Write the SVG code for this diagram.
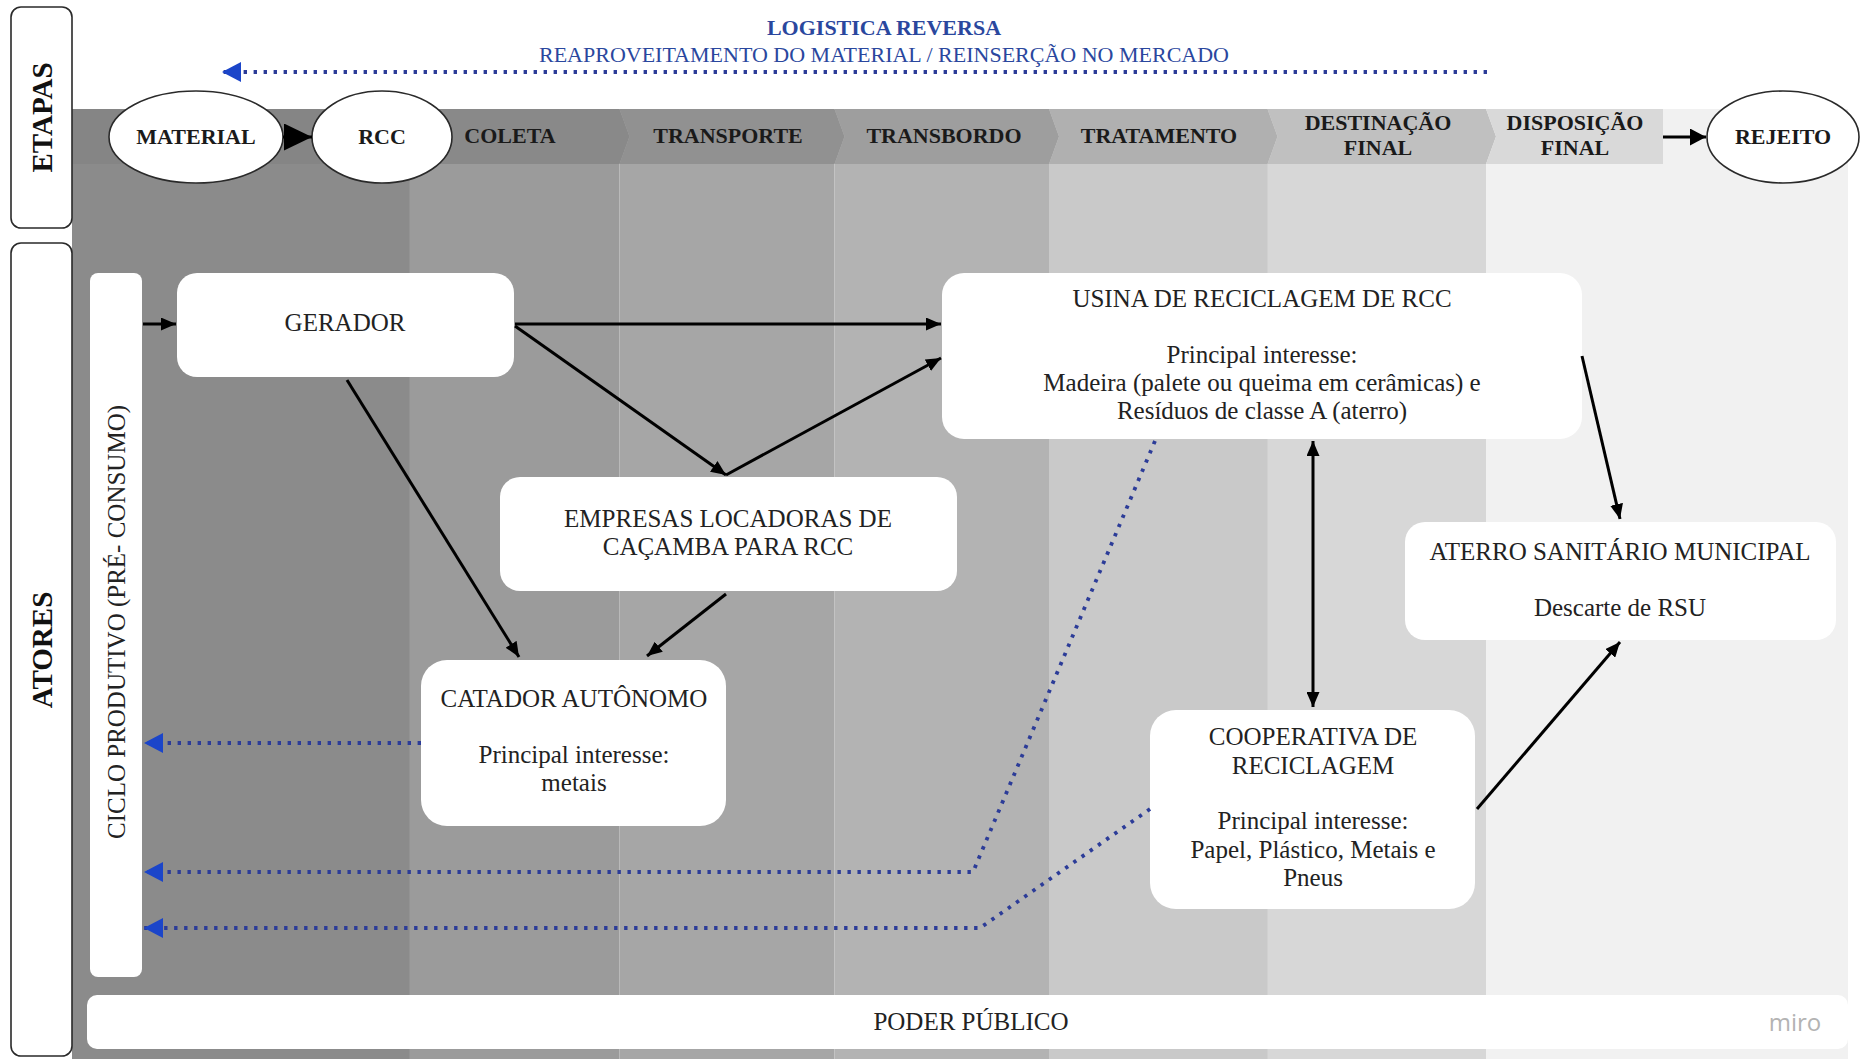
<svg xmlns="http://www.w3.org/2000/svg" width="1861" height="1059" viewBox="0 0 1861 1059">
<style>
.hdr{font-family:"Liberation Serif","Times New Roman",serif;font-weight:bold;font-size:22px;fill:#1a1a1a;text-anchor:middle}
.nt{font-family:"Liberation Serif","Times New Roman",serif;font-size:25px;fill:#222;text-anchor:middle}
.side{font-family:"Liberation Serif","Times New Roman",serif;font-weight:bold;font-size:29px;fill:#111;text-anchor:middle}
.node{fill:#fff}
.frame{fill:#fff;stroke:#2a2a2a;stroke-width:1.6}
.ell{fill:#fff;stroke:#2a2a2a;stroke-width:1.6}
.conn{fill:none;stroke:#000;stroke-width:3}
.dot{fill:none;stroke:#2c3c98;stroke-width:3.8;stroke-dasharray:3.4 6.6}
.blue{font-family:"Liberation Serif","Times New Roman",serif;font-size:22px;fill:#2a479e;text-anchor:middle}
</style>
<defs>
<marker id="ah" viewBox="0 0 15 13" refX="15" refY="6.5" markerWidth="15" markerHeight="13" markerUnits="userSpaceOnUse" orient="auto-start-reverse"><path d="M0,0 L15,6.5 L0,13 z" fill="#000"/></marker>
<marker id="ahb" viewBox="0 0 28 27" refX="28" refY="13.5" markerWidth="28" markerHeight="27" markerUnits="userSpaceOnUse" orient="auto"><path d="M0,0 L28,13.5 L0,27 z" fill="#000"/></marker>
<marker id="ah4" viewBox="0 0 16 17" refX="16" refY="8.5" markerWidth="16" markerHeight="17" markerUnits="userSpaceOnUse" orient="auto"><path d="M0,0 L16,8.5 L0,17 z" fill="#000"/></marker>
<marker id="bh" viewBox="0 0 19 20" refX="19" refY="10" markerWidth="19" markerHeight="20" markerUnits="userSpaceOnUse" orient="auto"><path d="M0,0 L19,10 L0,20 z" fill="#1b45c9"/></marker>
</defs>

<g id="background">
<rect x="72" y="109" width="338" height="950" fill="#8b8b8b"/>
<rect x="409.5" y="109" width="210" height="950" fill="#9b9b9b"/>
<rect x="619.5" y="109" width="215" height="950" fill="#a6a6a6"/>
<rect x="834.5" y="109" width="215" height="950" fill="#b3b3b3"/>
<rect x="1049" y="109" width="219" height="950" fill="#c9c9c9"/>
<rect x="1267.5" y="109" width="219" height="950" fill="#d7d7d7"/>
<rect x="1486" y="109" width="362" height="950" fill="#f1f1f1"/>
</g>

<g id="header-chevrons">
<rect x="72" y="109" width="338" height="55" fill="#858585"/>
<polygon points="409.5,109 619.5,109 629.5,136.5 619.5,164 409.5,164" fill="#898989"/>
<polygon points="619.5,109 834.5,109 844.5,136.5 834.5,164 619.5,164 629.5,136.5" fill="#919191"/>
<polygon points="834.5,109 1049,109 1059,136.5 1049,164 834.5,164 844.5,136.5" fill="#9e9e9e"/>
<polygon points="1049,109 1267.5,109 1277.5,136.5 1267.5,164 1049,164 1059,136.5" fill="#b0b0b0"/>
<polygon points="1267.5,109 1486,109 1496,136.5 1486,164 1267.5,164 1277.5,136.5" fill="#c0c0c0"/>
<polygon points="1486,109 1663,109 1663,164 1486,164 1496,136.5" fill="#d9d9d9"/>
</g>

<g id="title">
<text x="884" y="35" class="blue" font-weight="bold" fill="#20409a">LOGISTICA REVERSA</text>
<text x="884" y="62" class="blue">REAPROVEITAMENTO DO MATERIAL / REINSERÇÃO NO MERCADO</text>
</g>

<g id="etapas"><rect class="frame" x="11" y="7" width="61" height="221" rx="10"/><text class="side" transform="translate(41.5,117.5) rotate(-90)" y="10">ETAPAS</text></g>
<g id="atores"><rect class="frame" x="11" y="243" width="61" height="813" rx="10"/><text class="side" transform="translate(41.5,650) rotate(-90)" y="10">ATORES</text></g>

<g id="stage-labels">
<text class="hdr" x="510" y="143">COLETA</text>
<text class="hdr" x="728" y="143">TRANSPORTE</text>
<text class="hdr" x="944" y="143">TRANSBORDO</text>
<text class="hdr" x="1159" y="143">TRATAMENTO</text>
<text class="hdr" x="1378" y="130">DESTINAÇÃO</text>
<text class="hdr" x="1378" y="155">FINAL</text>
<text class="hdr" x="1575" y="130">DISPOSIÇÃO</text>
<text class="hdr" x="1575" y="155">FINAL</text>
</g>

<g id="material"><ellipse class="ell" cx="196" cy="137" rx="87" ry="46"/><text class="hdr" x="196" y="144">MATERIAL</text></g>
<g id="rcc"><ellipse class="ell" cx="382" cy="137" rx="70" ry="46"/><text class="hdr" x="382" y="144">RCC</text></g>
<g id="rejeito"><ellipse class="ell" cx="1783" cy="137" rx="76" ry="46"/><text class="hdr" x="1783" y="144">REJEITO</text></g>

<g id="ciclo"><rect class="node" x="90" y="273" width="52" height="704" rx="8"/><text class="nt" transform="translate(116,622) rotate(-90)" y="8.5">CICLO PRODUTIVO (PRÉ- CONSUMO)</text></g>

<g id="gerador"><rect class="node" x="177" y="273" width="337" height="104" rx="20"/><text class="nt" x="345" y="331">GERADOR</text></g>

<g id="usina"><rect class="node" x="942" y="273" width="640" height="166" rx="22"/>
<text class="nt" x="1262" y="307">USINA DE RECICLAGEM DE RCC</text>
<text class="nt" x="1262" y="363">Principal interesse:</text>
<text class="nt" x="1262" y="391">Madeira (palete ou queima em cerâmicas) e</text>
<text class="nt" x="1262" y="419">Resíduos de classe A (aterro)</text></g>

<g id="empresas"><rect class="node" x="500" y="477" width="457" height="114" rx="20"/>
<text class="nt" x="728" y="527">EMPRESAS LOCADORAS DE</text>
<text class="nt" x="728" y="555">CAÇAMBA PARA RCC</text></g>

<g id="catador"><rect class="node" x="421" y="660" width="305" height="166" rx="26"/>
<text class="nt" x="574" y="707">CATADOR AUTÔNOMO</text>
<text class="nt" x="574" y="763">Principal interesse:</text>
<text class="nt" x="574" y="791">metais</text></g>

<g id="aterro"><rect class="node" x="1405" y="522" width="431" height="118" rx="20"/>
<text class="nt" x="1620" y="560">ATERRO SANITÁRIO MUNICIPAL</text>
<text class="nt" x="1620" y="616">Descarte de RSU</text></g>

<g id="cooperativa"><rect class="node" x="1150" y="710" width="325" height="199" rx="26"/>
<text class="nt" x="1313" y="745">COOPERATIVA DE</text>
<text class="nt" x="1313" y="774">RECICLAGEM</text>
<text class="nt" x="1313" y="829">Principal interesse:</text>
<text class="nt" x="1313" y="858">Papel, Plástico, Metais e</text>
<text class="nt" x="1313" y="886">Pneus</text></g>

<g id="poder-publico"><rect class="node" x="87" y="995" width="1761" height="54" rx="10"/>
<text class="nt" x="971" y="1030">PODER PÚBLICO</text>
<text x="1795" y="1031" font-family="'Open Sans','Noto Sans',sans-serif" font-size="24" fill="#b3b3b3" text-anchor="middle">miro</text></g>

<g id="connectors">
<line class="conn" x1="283" y1="137" x2="312" y2="137" stroke-width="2" marker-end="url(#ahb)"/>
<line class="conn" x1="1663" y1="137" x2="1706" y2="137" stroke-width="4" marker-end="url(#ah4)"/>
<line class="conn" x1="143" y1="324" x2="176" y2="324" marker-end="url(#ah)"/>
<line class="conn" x1="515" y1="324" x2="941" y2="324" marker-end="url(#ah)"/>
<line class="conn" x1="515" y1="326" x2="726" y2="475" marker-end="url(#ah)"/>
<line class="conn" x1="726" y1="475" x2="941" y2="358" marker-end="url(#ah)"/>
<line class="conn" x1="347" y1="380" x2="519" y2="657" marker-end="url(#ah)"/>
<line class="conn" x1="726" y1="594" x2="647" y2="656" marker-end="url(#ah)"/>
<line class="conn" x1="1313" y1="441" x2="1313" y2="707" marker-start="url(#ah)" marker-end="url(#ah)"/>
<line class="conn" x1="1582" y1="356" x2="1620" y2="519" marker-end="url(#ah)"/>
<line class="conn" x1="1477" y1="809" x2="1620" y2="642" marker-end="url(#ah)"/>
<line class="dot" x1="1487" y1="72" x2="222" y2="72" marker-end="url(#bh)"/>
<line class="dot" x1="421" y1="743" x2="144" y2="743" marker-end="url(#bh)"/>
<polyline class="dot" points="1155,441 973,872 144,872" marker-end="url(#bh)"/>
<polyline class="dot" points="1150,809 980,928 144,928" marker-end="url(#bh)"/>
</g>
</svg>
